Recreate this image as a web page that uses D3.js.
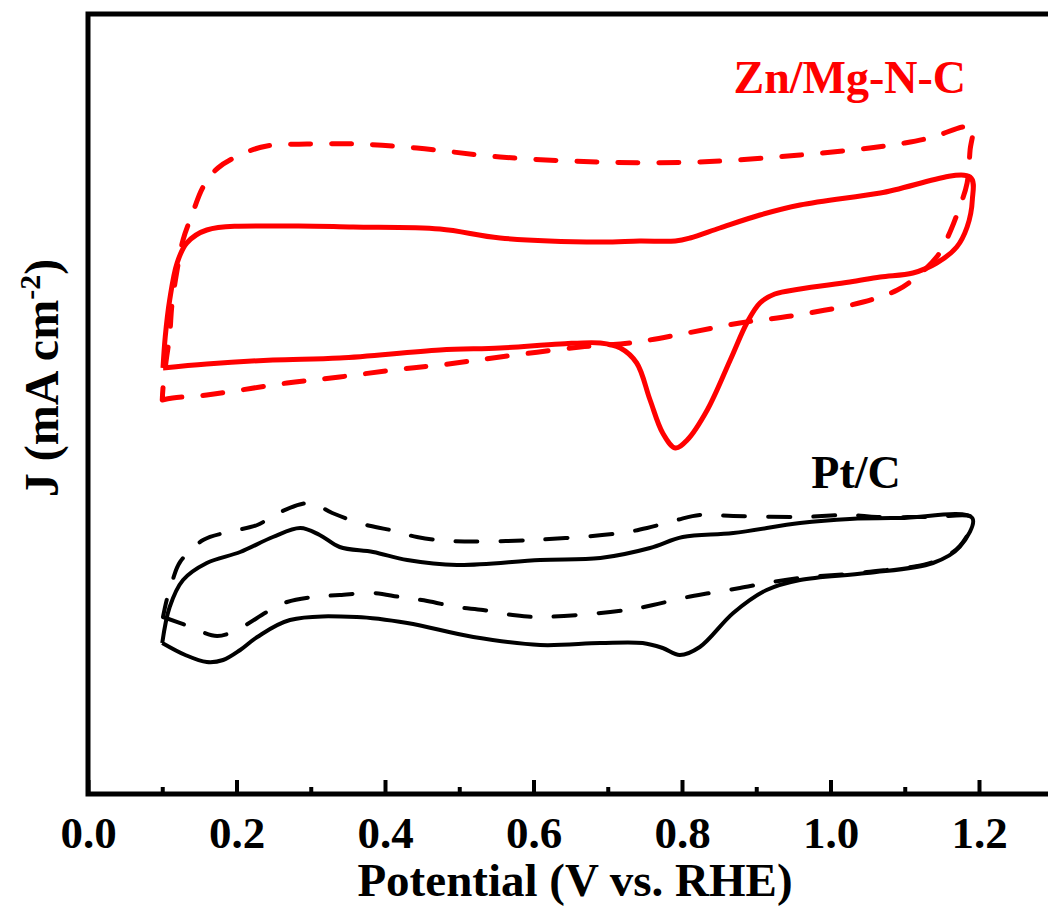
<!DOCTYPE html>
<html>
<head>
<meta charset="utf-8">
<script src="https://cdn.jsdelivr.net/npm/d3@7"></script>
<style>
  html, body { margin: 0; padding: 0; background: #fff; }
  svg text { font-family: "Liberation Serif", "Times New Roman", serif; font-weight: bold; }
</style>
</head>
<body>
<div id="chart"></div>
<script>
// ---- data: [potential (V vs. RHE), J (mA cm-2)] ----
var znMgSolid = [
  [0.101, 1.32], [0.160, 1.36], [0.249, 1.40], [0.339, 1.42], [0.474, 1.50], [0.555, 1.52],
  [0.636, 1.56], [0.690, 1.57], [0.717, 1.52], [0.739, 1.37], [0.757, 1.00], [0.774, 0.67],
  [0.791, 0.52], [0.807, 0.60], [0.834, 0.90], [0.865, 1.40], [0.888, 1.78], [0.905, 1.97],
  [0.925, 2.06], [0.959, 2.11], [1.026, 2.18], [1.067, 2.23], [1.111, 2.27], [1.143, 2.37],
  [1.170, 2.53], [1.184, 2.73], [1.191, 3.00], [1.188, 3.23],
  [1.067, 3.07], [0.959, 2.95], [0.905, 2.85], [0.851, 2.72], [0.811, 2.62], [0.791, 2.59],
  [0.743, 2.59], [0.690, 2.58], [0.555, 2.62], [0.474, 2.71], [0.357, 2.73], [0.272, 2.74],
  [0.160, 2.70], [0.133, 2.57], [0.120, 2.37], [0.110, 2.00], [0.104, 1.63], [0.101, 1.32]
];
var znMgDashed = [
  [0.100, 1.00], [0.114, 1.02], [0.160, 1.05], [0.268, 1.17], [0.339, 1.23], [0.411, 1.30],
  [0.474, 1.35], [0.555, 1.43], [0.663, 1.53], [0.730, 1.57], [0.807, 1.67], [0.878, 1.77],
  [0.955, 1.85], [1.044, 1.98], [1.090, 2.10], [1.114, 2.22], [1.143, 2.43], [1.158, 2.63],
  [1.174, 2.93], [1.184, 3.17], [1.188, 3.50], [1.191, 3.73],
  [1.178, 3.73], [1.138, 3.63], [1.100, 3.57], [1.053, 3.52], [0.959, 3.45], [0.824, 3.38],
  [0.690, 3.38], [0.555, 3.43], [0.443, 3.52], [0.362, 3.56], [0.295, 3.56], [0.241, 3.54],
  [0.214, 3.48], [0.175, 3.32], [0.155, 3.13], [0.140, 2.85], [0.128, 2.60], [0.120, 2.30],
  [0.113, 1.95], [0.110, 1.65], [0.105, 1.38], [0.101, 1.12], [0.100, 1.00]
];
var ptcSolid = [
  [0.100, -1.43], [0.131, -1.55], [0.160, -1.62], [0.182, -1.60], [0.205, -1.50], [0.228, -1.37],
  [0.272, -1.20], [0.362, -1.17], [0.430, -1.23], [0.519, -1.37], [0.609, -1.45], [0.690, -1.43],
  [0.747, -1.43], [0.774, -1.48], [0.797, -1.55], [0.824, -1.47], [0.869, -1.13], [0.914, -0.90],
  [0.959, -0.80], [1.049, -0.73], [1.138, -0.63], [1.174, -0.47], [1.191, -0.18],
  [1.094, -0.18], [1.026, -0.19], [0.959, -0.23], [0.869, -0.33], [0.801, -0.37], [0.757, -0.48],
  [0.690, -0.58], [0.609, -0.60], [0.497, -0.65], [0.430, -0.60], [0.384, -0.52], [0.339, -0.47],
  [0.312, -0.35], [0.286, -0.28], [0.249, -0.37], [0.205, -0.52], [0.160, -0.63], [0.128, -0.80],
  [0.110, -1.07], [0.100, -1.43]
];
var ptcDashed = [
  [0.101, -1.17], [0.135, -1.26], [0.174, -1.36], [0.205, -1.28], [0.241, -1.12], [0.268, -1.02],
  [0.303, -0.97], [0.339, -0.95], [0.384, -0.93], [0.420, -0.97], [0.457, -1.01], [0.497, -1.07],
  [0.532, -1.10], [0.572, -1.15], [0.609, -1.17], [0.726, -1.10], [0.761, -1.05], [0.801, -0.98],
  [0.838, -0.93], [0.878, -0.88], [0.914, -0.83], [0.959, -0.78], [1.049, -0.72], [1.138, -0.62],
  [1.174, -0.46], [1.191, -0.18],
  [1.138, -0.17], [1.063, -0.17], [1.026, -0.15], [0.959, -0.17], [0.869, -0.16], [0.824, -0.15],
  [0.793, -0.20], [0.753, -0.28], [0.717, -0.33], [0.599, -0.40], [0.488, -0.41], [0.443, -0.37],
  [0.407, -0.30], [0.370, -0.24], [0.329, -0.13], [0.299, -0.03], [0.256, -0.13], [0.228, -0.25],
  [0.189, -0.32], [0.155, -0.40], [0.124, -0.62], [0.114, -0.80], [0.106, -1.00], [0.101, -1.17]
];
var xMajorTicks = [0.0, 0.2, 0.4, 0.6, 0.8, 1.0, 1.2];
var xMinorTicks = [0.1, 0.3, 0.5, 0.7, 0.9, 1.1];
var seriesLabels = ["Zn/Mg-N-C", "Pt/C"];

var width = 1048, height = 906;
var margin = {top: 14, left: 88, bottom: 112};

var svg = d3.select("#chart").append("svg")
    .attr("width", width)
    .attr("height", height);

var x = d3.scaleLinear()
    .domain([0, 1.3])
    .range([margin.left, margin.left + 1.3 * 742.5]);

var y = d3.scaleLinear()
    .domain([-2.94, 4.86])
    .range([height - margin.bottom, margin.top]);

var line = d3.line()
    .curve(d3.curveCatmullRom.alpha(0.5))
    .x(function(d) { return x(d[0]); })
    .y(function(d) { return y(d[1]); });

// curves
svg.append("path").datum(znMgDashed)
    .attr("fill", "none").attr("stroke", "#ff0000").attr("stroke-width", 5)
    .attr("stroke-linecap", "round").attr("stroke-linejoin", "round")
    .attr("stroke-dasharray", "20,21")
    .attr("d", line);
svg.append("path").datum(znMgSolid)
    .attr("fill", "none").attr("stroke", "#ff0000").attr("stroke-width", 5)
    .attr("stroke-linejoin", "round")
    .attr("d", line);
svg.append("path").datum(ptcDashed)
    .attr("fill", "none").attr("stroke", "#000").attr("stroke-width", 4)
    .attr("stroke-linecap", "round").attr("stroke-linejoin", "round")
    .attr("stroke-dasharray", "22,23")
    .attr("d", line);
svg.append("path").datum(ptcSolid)
    .attr("fill", "none").attr("stroke", "#000").attr("stroke-width", 4)
    .attr("stroke-linejoin", "round")
    .attr("d", line);

// frame
svg.append("rect")
    .attr("x", x(0)).attr("y", y.range()[1])
    .attr("width", x(1.3) - x(0)).attr("height", y.range()[0] - y.range()[1])
    .attr("fill", "none").attr("stroke", "#000").attr("stroke-width", 5);

// x axis, ticks inside
var xAxis = svg.append("g")
    .attr("transform", "translate(0," + y.range()[0] + ")")
    .call(d3.axisBottom(x).tickValues(xMajorTicks).tickSize(-14).tickSizeOuter(0)
        .tickPadding(22).tickFormat(d3.format(".1f")));
xAxis.select(".domain").remove();
xAxis.selectAll(".tick line").attr("stroke-width", 4);
xAxis.selectAll(".tick text")
    .attr("fill", "#000")
    .style("font-size", "45px");

var xMinor = svg.append("g")
    .attr("transform", "translate(0," + y.range()[0] + ")")
    .call(d3.axisBottom(x).tickValues(xMinorTicks).tickSize(-7).tickSizeOuter(0).tickFormat(""));
xMinor.select(".domain").remove();
xMinor.selectAll(".tick line").attr("stroke-width", 4);

// axis titles
svg.append("text")
    .attr("x", 575).attr("y", 896)
    .attr("text-anchor", "middle")
    .style("font-size", "47px")
    .text("Potential (V vs. RHE)");

var yTitle = svg.append("text")
    .attr("transform", "translate(58,378) rotate(-90)")
    .attr("text-anchor", "middle")
    .style("font-size", "48px");
yTitle.append("tspan").text("J (mA cm");
yTitle.append("tspan").attr("dy", -18).style("font-size", "30px").text("-2");
yTitle.append("tspan").attr("dy", 18).text(")");

// series labels
svg.append("text")
    .attr("x", 966).attr("y", 93)
    .attr("text-anchor", "end")
    .attr("fill", "#ff0000")
    .style("font-size", "46px")
    .text(seriesLabels[0]);

svg.append("text")
    .attr("x", 856).attr("y", 488)
    .attr("text-anchor", "middle")
    .attr("fill", "#000")
    .style("font-size", "46px")
    .text(seriesLabels[1]);
</script>
</body>
</html>
